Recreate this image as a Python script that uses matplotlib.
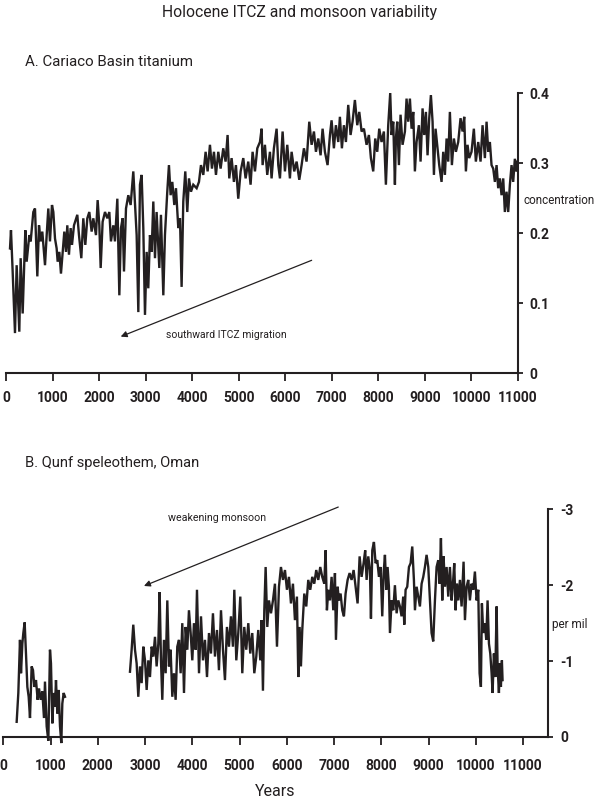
import matplotlib
matplotlib.use("Agg")
import matplotlib.pyplot as plt

plt.rcParams['font.family'] = ['Roboto', 'DejaVu Sans']

# ---------------- data ----------------
cariaco_years = [86, 107, 143, 193, 229, 286, 315, 358, 415, 444, 501, 530, 587, 623, 673, 709, 745, 780, 816, 838,
                 874, 909, 945, 988, 1017, 1053, 1088, 1110, 1146, 1181, 1217, 1253, 1289, 1317, 1353, 1389, 1418, 1461,
                 1532, 1568, 1618, 1661, 1704, 1747, 1790, 1840, 1876, 1933, 1969, 2005, 2034, 2076, 2127, 2177, 2220,
                 2255, 2306, 2341, 2392, 2435, 2470, 2506, 2535, 2578, 2628, 2678,
                 2735, 2807, 2843, 2878, 2914, 2950, 2986, 3022, 3057, 3093, 3129, 3165, 3201, 3236, 3294, 3329, 3380,
                 3415, 3465, 3501, 3537, 3573, 3616, 3652, 3702, 3738, 3773, 3809, 3852, 3895, 3931, 3974, 4024, 4096,
                 4146, 4189, 4239, 4289, 4332, 4382, 4425, 4468, 4511, 4561, 4611, 4668, 4718, 4761, 4797, 4847, 4897,
                 4940, 4990, 5041, 5098, 5148, 5205, 5255, 5298, 5349, 5399, 5456, 5492,
                 5513, 5563, 5613, 5671, 5706, 5756, 5814, 5850, 5886, 5943, 5993, 6043, 6100, 6136, 6193, 6244, 6301,
                 6351, 6401, 6458, 6516, 6566, 6616, 6659, 6709, 6759, 6802, 6852, 6909, 6960, 6995, 7045, 7088, 7139,
                 7174, 7217, 7260, 7303, 7353, 7403, 7446, 7496, 7547, 7590, 7640, 7690, 7747, 7797, 7840, 7890, 7933,
                 7976, 8019, 8069, 8119, 8162, 8212, 8255, 8284, 8320, 8356,
                 8377, 8406, 8442, 8477, 8520, 8571, 8606, 8642, 8678, 8714, 8750, 8785, 8821, 8871, 8907, 8950, 8986,
                 9022, 9057, 9093, 9129, 9165, 9194, 9229, 9265, 9308, 9358, 9394, 9430, 9466, 9501, 9537, 9580, 9623,
                 9666, 9716, 9766, 9809, 9845, 9881, 9916, 9952, 10002, 10052, 10095, 10146, 10196, 10239, 10289,
                 10325, 10361, 10396, 10432, 10468, 10504, 10540, 10575, 10611, 10647, 10683, 10718, 10754, 10790,
                 10826, 10862, 10897, 10933, 10969, 10990]
cariaco_ti = [0.178, 0.204, 0.145, 0.057, 0.154, 0.059, 0.164, 0.085, 0.204, 0.159, 0.197, 0.188, 0.230, 0.235, 0.138,
              0.211, 0.188, 0.202, 0.173, 0.154, 0.197, 0.235, 0.188, 0.240, 0.230, 0.192, 0.178, 0.159, 0.173, 0.142,
              0.173, 0.202, 0.173, 0.211, 0.169, 0.207, 0.183, 0.211, 0.226, 0.197, 0.164, 0.221, 0.183, 0.221, 0.230,
              0.202, 0.221, 0.197, 0.247, 0.211, 0.150, 0.216, 0.230, 0.221, 0.230, 0.188, 0.211, 0.188, 0.249, 0.111,
              0.207, 0.221, 0.145, 0.235, 0.254, 0.240,
              0.288, 0.197, 0.087, 0.269, 0.283, 0.207, 0.083, 0.173, 0.121, 0.197, 0.173, 0.245, 0.164, 0.230, 0.150,
              0.226, 0.111, 0.197, 0.259, 0.297, 0.254, 0.273, 0.240, 0.264, 0.207, 0.221, 0.123, 0.245, 0.288, 0.230,
              0.278, 0.259, 0.269, 0.264, 0.273, 0.297, 0.283, 0.316, 0.288, 0.326, 0.292, 0.316, 0.283, 0.316, 0.292,
              0.321, 0.302, 0.340, 0.278, 0.307, 0.273, 0.297, 0.249, 0.288, 0.307, 0.278, 0.302, 0.269, 0.316, 0.288,
              0.321, 0.330, 0.349,
              0.297, 0.326, 0.283, 0.316, 0.278, 0.321, 0.349, 0.297, 0.278, 0.345, 0.288, 0.326, 0.278, 0.316, 0.288,
              0.302, 0.276, 0.297, 0.321, 0.302, 0.359, 0.326, 0.345, 0.316, 0.335, 0.311, 0.349, 0.316, 0.297, 0.340,
              0.361, 0.321, 0.354, 0.330, 0.366, 0.321, 0.354, 0.330, 0.383, 0.340, 0.359, 0.390, 0.354, 0.373, 0.345,
              0.349, 0.326, 0.340, 0.307, 0.288, 0.335, 0.316, 0.349, 0.330, 0.345, 0.269, 0.354, 0.400, 0.340, 0.359,
              0.269,
              0.335, 0.359, 0.297, 0.369, 0.326, 0.345, 0.392, 0.359, 0.392, 0.349, 0.373, 0.288, 0.330, 0.354, 0.302,
              0.378, 0.340, 0.373, 0.311, 0.364, 0.397, 0.359, 0.283, 0.349, 0.326, 0.297, 0.273, 0.316, 0.283, 0.335,
              0.302, 0.373, 0.297, 0.335, 0.316, 0.330, 0.364, 0.345, 0.366, 0.288, 0.326, 0.307, 0.316, 0.349, 0.302,
              0.330, 0.302, 0.354, 0.307, 0.359, 0.316, 0.330, 0.297, 0.292, 0.273, 0.297, 0.264, 0.278, 0.254, 0.278,
              0.230, 0.259, 0.230, 0.269, 0.297, 0.273, 0.306, 0.288, 0.302]

qunf_early_years = [284, 319, 354, 376, 404, 425, 453, 481, 510, 538, 566, 601, 630, 658, 693, 728, 757, 792, 827, 862,
                    883, 919, 954, 989, 1010, 1039, 1067, 1095, 1116, 1144, 1173, 1201, 1229, 1250, 1278, 1307]
qunf_early_d18o = [-0.20, -0.58, -1.28, -0.84, -1.23, -1.37, -1.51, -1.10, -0.66, -0.53, -0.25, -0.93, -0.88, -0.66,
                   -0.75, -0.49, -0.64, -0.49, -0.60, -0.25, -0.73, -0.14, 0.05, -1.15, -0.97, -0.18, -0.58, -0.40,
                   -0.75, -0.31, -0.62, -0.14, 0.08, -0.44, -0.58, -0.53]

qunf_late_years = [2682, 2717, 2752, 2788, 2823, 2858, 2894, 2929, 2964, 3000, 3035, 3070, 3105, 3141, 3176, 3211,
                   3246, 3282, 3310, 3338, 3366, 3401, 3437, 3472, 3507, 3542, 3578, 3613, 3648, 3683, 3719, 3754,
                   3789, 3825, 3860, 3895, 3930, 3966, 4001, 4036, 4072, 4100, 4143, 4185, 4227, 4269, 4312, 4354,
                   4396, 4438, 4481, 4523, 4565, 4608, 4650, 4692, 4734, 4777, 4819, 4861, 4890, 4932, 4974, 5017,
                   5059, 5101, 5143, 5186, 5228, 5270, 5313, 5355, 5397, 5440, 5468, 5496, 5525, 5553, 5588, 5623,
                   5666, 5708, 5750, 5793, 5835, 5877, 5920, 5962, 6004, 6046, 6089, 6131, 6173, 6215, 6244, 6272,
                   6300, 6328, 6371, 6413, 6455, 6497, 6540, 6582, 6624, 6667, 6709, 6751, 6794, 6822, 6850, 6879,
                   6914, 6949, 6984, 7020, 7041, 7076, 7104, 7139, 7175, 7210, 7245, 7288, 7330, 7372, 7415, 7457,
                   7499, 7542, 7584, 7626, 7660, 7690, 7725, 7760, 7782, 7810, 7845, 7880, 7916, 7951, 7986, 8021,
                   8050, 8078, 8106, 8134, 8162, 8184, 8219, 8254, 8289, 8325, 8360, 8395, 8430, 8465, 8487, 8515,
                   8550, 8586, 8621, 8656, 8691, 8713, 8748, 8783, 8818, 8854, 8889, 8924, 8959, 8995, 9030, 9065,
                   9100, 9136, 9171, 9206, 9234, 9263, 9291, 9319, 9348, 9383, 9418, 9453, 9489, 9517, 9545, 9573,
                   9601, 9630, 9665, 9700, 9742, 9771, 9806, 9841, 9876, 9911, 9947, 9982, 10017, 10053, 10081,
                   10109, 10130, 10159, 10194, 10222, 10250, 10279, 10307, 10335, 10356, 10384, 10413, 10441, 10462,
                   10490, 10511, 10532, 10553, 10567]
qunf_late_d18o = [-0.86, -1.15, -1.48, -1.15, -0.97, -0.53, -0.93, -0.71, -1.19, -1.01, -0.62, -1.01, -0.79, -1.19,
                  -1.06, -1.32, -0.93, -1.23, -1.91, -1.01, -0.49, -1.28, -0.84, -1.80, -0.93, -1.15, -0.53, -0.84,
                  -0.49, -1.19, -1.28, -0.84, -1.50, -0.58, -1.45, -1.15, -1.67, -1.37, -1.01, -1.50, -1.15, -1.94,
                  -0.84, -1.59, -1.01, -1.28, -0.79, -1.37, -1.10, -1.63, -1.06, -1.41, -0.88, -1.67, -1.15, -0.75,
                  -1.45, -1.19, -1.59, -1.19, -1.94, -1.01, -1.37, -1.85, -0.84, -1.45, -1.15, -1.50, -1.10, -1.37,
                  -0.84, -1.06, -1.41, -1.01, -1.54, -0.61, -1.67, -2.24, -1.45, -1.80, -1.63, -1.80, -2.02, -1.19,
                  -1.98, -2.24, -2.07, -2.20, -1.94, -2.11, -1.76, -2.02, -1.54, -1.85, -0.79, -1.45, -0.93, -1.41,
                  -1.89, -1.72, -2.07, -1.94, -2.11, -2.02, -2.20, -2.07, -2.24, -2.11, -2.02, -2.46, -1.67, -1.94,
                  -1.80, -2.11, -1.67, -2.16, -1.28, -1.98, -1.80, -1.89, -1.67, -1.59, -1.89, -2.07, -2.16, -2.07,
                  -2.20, -1.98, -1.76, -2.38, -2.11, -2.29, -2.46, -2.07, -2.38, -2.20, -1.56, -2.46, -2.57, -2.29,
                  -2.33, -2.11, -2.24, -1.59, -2.16, -2.40, -1.94, -2.24, -1.98, -1.37, -1.80, -1.67, -2.00, -1.63,
                  -1.80, -1.72, -1.59, -1.85, -1.48, -1.94, -1.98, -2.24, -2.29, -2.51, -2.07, -1.67, -1.98, -1.85,
                  -1.72, -2.02, -2.11, -2.24, -2.40, -2.24, -1.80, -1.37, -1.26, -1.80, -2.24, -2.33, -2.02, -2.62,
                  -1.80, -2.38, -1.98, -2.24, -1.85, -2.24, -1.80, -2.02, -2.29, -1.67, -2.02, -1.80, -2.07, -1.72,
                  -2.31, -1.54, -1.98, -2.07, -1.80, -2.02, -1.94, -2.18, -1.80, -1.94, -0.84, -0.66, -1.76, -1.37,
                  -1.50, -1.28, -1.80, -1.23, -1.10, -0.84, -0.58, -1.10, -0.79, -1.72, -0.93, -0.58, -0.97, -0.66,
                  -1.01, -0.75]

x_ticks = [0, 1000, 2000, 3000, 4000, 5000, 6000, 7000, 8000, 9000, 10000, 11000]
ti_ticks = [0, 0.1, 0.2, 0.3, 0.4]
ti_tick_labels = ['0', '0.1', '0.2', '0.3', '0.4']
d18_ticks = [0, -1, -2, -3]
d18_tick_labels = ['0', '-1', '-2', '-3']

# ---------------- figure ----------------
INK = '#231f20'
FAM = ['Roboto', 'DejaVu Sans']
fig = plt.figure(figsize=(6, 8), dpi=100)
tickfont = dict(family=FAM, weight='bold', size=10)


def style(ax, xpad):
    for s in ('left', 'top'):
        ax.spines[s].set_visible(False)
    for s in ('right', 'bottom'):
        ax.spines[s].set_linewidth(1.5)
        ax.spines[s].set_color(INK)
    ax.yaxis.tick_right()
    ax.tick_params(axis='x', direction='out', length=6, width=1.3, pad=xpad, colors=INK)
    ax.tick_params(axis='y', direction='out', length=3.5, width=1.3, pad=5, colors=INK)
    ax.set_xticks(x_ticks)
    ax.set_xticklabels([str(t) for t in x_ticks], fontdict=tickfont)


# Panel A
axA = fig.add_axes([0.01, 0.53375, 0.8533, 0.35])
axA.plot(cariaco_years, cariaco_ti, color=INK, lw=1.7, solid_joinstyle='miter')
axA.set_xlim(0, 11000)
axA.set_ylim(0, 0.4)
style(axA, 7)
axA.set_yticks(ti_ticks)
axA.set_yticklabels(ti_tick_labels, fontdict=tickfont)
axA.text(11110, 0.246, 'concentration', fontsize=8.4, va='center', ha='left', color=INK)
axA.annotate('', xy=(2464, 0.052), xytext=(6567, 0.161),
             arrowprops=dict(arrowstyle='-|>', color=INK, lw=0.9, mutation_scale=9, shrinkA=0, shrinkB=0))
axA.text(3437, 0.054, 'southward ITCZ migration', fontsize=7.5, va='center', ha='left', color=INK)

# Panel B
axB = fig.add_axes([0.00542, 0.07875, 0.9084, 0.2846])
axB.plot(qunf_early_years, qunf_early_d18o, color=INK, lw=1.7, clip_on=False, solid_joinstyle='miter')
axB.plot(qunf_late_years, qunf_late_d18o, color=INK, lw=1.7, clip_on=False, solid_joinstyle='miter')
axB.set_xlim(0, 11535)
axB.set_ylim(0, -3)
style(axB, 10)
axB.set_yticks(d18_ticks)
axB.set_yticklabels(d18_tick_labels, fontdict=tickfont)
axB.text(11620, -1.48, 'per mil', fontsize=8.5, va='center', ha='left', color=INK)
axB.annotate('', xy=(2978, -1.99), xytext=(7090, -3.03),
             arrowprops=dict(arrowstyle='-|>', color=INK, lw=0.9, mutation_scale=9, shrinkA=0, shrinkB=0),
             annotation_clip=False)
axB.text(3480, -2.885, 'weakening monsoon', fontsize=7.7, va='center', ha='left', color=INK)

# Titles
fig.text(300 / 600, 1 - 12 / 800, 'Holocene ITCZ and monsoon variability', fontsize=11.3, ha='center', va='center', color=INK)
fig.text(25 / 600, 1 - 62 / 800, 'A. Cariaco Basin titanium', fontsize=10.8, ha='left', va='center', color=INK)
fig.text(25 / 600, 1 - 463 / 800, 'B. Qunf speleothem, Oman', fontsize=10.6, ha='left', va='center', color=INK)
fig.text(275 / 600, 1 - 791 / 800, 'Years', fontsize=11.5, ha='center', va='center', color=INK)

fig.savefig('out.png', dpi=100)
